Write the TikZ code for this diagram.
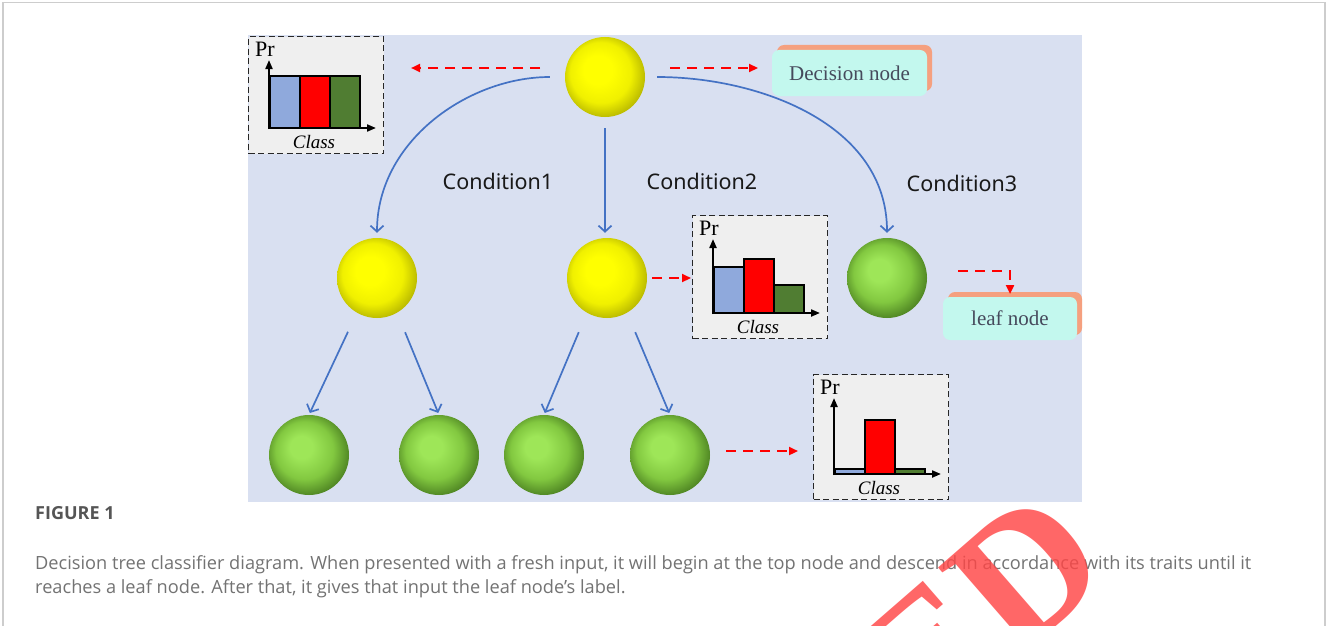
\documentclass[tikz,border=0pt]{standalone}
\usepackage{fontspec}
\setmainfont{Liberation Serif}
\newfontfamily\condfont{Noto Sans}
\newfontfamily\capfont{Open Sans}
\usetikzlibrary{arrows.meta,shadows}
\definecolor{bgblue}{RGB}{217,224,241}
\definecolor{frameg}{RGB}{205,205,205}
\definecolor{arrblue}{RGB}{68,114,196}
\definecolor{boxcyan}{RGB}{195,248,238}
\definecolor{boxorange}{RGB}{245,160,127}
\definecolor{boxtext}{RGB}{70,74,92}
\definecolor{histfill}{RGB}{239,239,239}
\definecolor{barblue}{RGB}{143,169,220}
\definecolor{barred}{RGB}{255,0,0}
\definecolor{bargreen}{RGB}{80,125,50}
\definecolor{captext}{RGB}{115,115,115}
\definecolor{caphead}{RGB}{85,85,85}
\definecolor{wmred}{RGB}{255,70,70}
\definecolor{yca}{RGB}{255,255,0}
\definecolor{ycb}{RGB}{240,240,0}
\definecolor{ycc}{RGB}{185,185,0}
\definecolor{ycd}{RGB}{115,115,0}
\definecolor{gca}{RGB}{158,230,88}
\definecolor{gcb}{RGB}{130,200,64}
\definecolor{gcc}{RGB}{84,140,38}
\definecolor{gcd}{RGB}{42,80,18}
\pgfdeclareradialshading{yball}{\pgfpoint{-6bp}{6bp}}{color(0bp)=(yca); color(9bp)=(yca); color(19bp)=(ycb); color(27bp)=(ycc); color(35bp)=(ycd)}
\pgfdeclareradialshading{gball}{\pgfpoint{-6bp}{6bp}}{color(0bp)=(gca); color(7bp)=(gca); color(18bp)=(gcb); color(26bp)=(gcc); color(35bp)=(gcd)}
\tikzset{
  ball/.style={circle, minimum size=80pt, inner sep=0pt, draw=none},
  yballn/.style={ball, shade, shading=yball},
  gballn/.style={ball, shade, shading=gball},
  barrow/.style={draw=arrblue, line width=1.7pt, -{Straight Barb[length=6pt,width=13pt,line width=1.7pt]}},
  rarrow/.style={draw=red, line width=2.2pt, dash pattern=on 10pt off 7pt, -{Triangle[length=9pt,width=8pt]}},
  histbox/.style={draw=black!85, fill=histfill, line width=1.3pt, dash pattern=on 6pt off 3.5pt, inner sep=0pt},
  bar/.style={draw=black, line width=1.5pt},
  axis/.style={draw=black, line width=2pt, -{Triangle[length=9pt,width=7pt]}},
  nodebox/.style={fill=boxcyan, rounded corners=7pt, text=boxtext, font=\fontsize{21}{24}\selectfont, inner sep=0pt,
     copy shadow={shadow xshift=5pt, shadow yshift=5pt, fill=boxorange, draw=none}},
  condlabel/.style={font=\condfont\fontsize{21.5}{24}\selectfont, text=black!90},
}
\newcommand\hchart[7]{%
  \node[histbox, minimum width=135pt, minimum height=#4pt, anchor=north west] (#1) at (#2,#3) {};
  \begin{scope}[shift={(#1.north west)}]
    \draw[bar, fill=barblue] (22,#4-25) rectangle ++(30,-#5);
    \draw[bar, fill=barred] (52,#4-25) rectangle ++(30,-#6);
    \draw[bar, fill=bargreen] (82,#4-25) rectangle ++(30,-#7);
    \draw[axis] (21,#4-24) -- (21,24);
    \draw[axis] (20,#4-25) -- (128,#4-25);
    \node[font=\fontsize{22}{24}\selectfont, inner sep=0pt] (#1pr) at (17,13) {Pr};
    \node[font=\itshape\fontsize{19}{22}\selectfont, inner sep=0pt] (#1cl) at (66,#4-11) {Class};
  \end{scope}}
\begin{document}
\begin{tikzpicture}[x=1pt,y=-1pt]
\useasboundingbox (0,0) rectangle (1327,626);
\clip (0,0) rectangle (1327,626);
\fill[white] (0,0) rectangle (1327,626);
\draw[frameg, line width=1.5pt] (3,660) -- (3,2.5) -- (1325,2.5) -- (1325,660);
\fill[bgblue] (248,35) rectangle (1082,502);

% charts
\hchart{h1}{248}{36}{117}{52}{52}{52}
\hchart{h2}{692}{215}{123}{46}{54}{28}
\hchart{h3}{813}{374}{125}{5}{54}{5}

% balls
\node[yballn] (r)  at (605,77) {};
\node[yballn] (l1) at (377,278) {};
\node[yballn] (l2) at (607,278) {};
\node[gballn] (l3) at (887,278) {};
\node[gballn] (g1) at (309,455) {};
\node[gballn] (g2) at (439,455) {};
\node[gballn] (g3) at (544,455) {};
\node[gballn] (g4) at (670,455) {};

% tree arrows
\draw[barrow, shorten <=15pt, shorten >=5pt] (r.west) to[out=180,in=90] (l1.north);
\draw[barrow, shorten <=11pt, shorten >=5pt] (r.south) -- (r.south |- l2.north);
\draw[barrow, shorten <=12pt, shorten >=5pt] (r.east) to[out=0,in=90] (l3.north);
\draw[barrow, shorten <=21pt, shorten >=2pt] (l1.240) -- (g1.north);
\draw[barrow, shorten <=21pt, shorten >=2pt] (l1.300) -- (g2.north);
\draw[barrow, shorten <=21pt, shorten >=2pt] (l2.240) -- (g3.north);
\draw[barrow, shorten <=21pt, shorten >=2pt] (l2.300) -- (g4.north);

% condition labels
\node[condlabel] (c1) at (498,181) {Condition1};
\node[condlabel] (c2) at (702,181) {Condition2};
\node[condlabel] (c3) at (962,183) {Condition3};

% legend boxes
\node[nodebox, minimum width=155pt, minimum height=46pt] (dn) at (849.5,73) {Decision node};
\node[nodebox, minimum width=134pt, minimum height=43pt] (ln) at (1010,318.5) {leaf node};

% red dashed arrows
\coordinate (a1s) at (540,68); \coordinate (a1e) at (411,68);
\coordinate (a2s) at (670,68); \coordinate (a2e) at (758,68);
\coordinate (a3s) at (652,278); \coordinate (a3e) at (691,278);
\coordinate (a4s) at (958,271); \coordinate (a4e) at (1010,294);
\coordinate (a5s) at (726,451); \coordinate (a5e) at (798,451);
\draw[rarrow] (a1s) -- (a1e);
\draw[rarrow] (a2s) -- (a2e);
\draw[rarrow] (a3s) -- (a3e);
\draw[rarrow] (a4s) -| (a4e);
\draw[rarrow] (a5s) -- (a5e);

% caption
\node[anchor=base west, inner sep=0pt, text=caphead, font=\capfont\bfseries\fontsize{18}{20}\selectfont] (fig) at (35,519) {FIGURE 1};
\node[anchor=base west, inner sep=0pt, text=captext, font=\capfont\fontsize{18.2}{20}\selectfont] (cap1) at (35,569) {Decision tree classifier diagram. When presented with a fresh input, it will begin at the top node and descend in accordance with its traits until it};
\node[anchor=base west, inner sep=0pt, text=captext, font=\capfont\fontsize{18.2}{20}\selectfont] (cap2) at (35,593) {reaches a leaf node. After that, it gives that input the leaf node’s label.};

% watermark
\node[text=wmred, opacity=0.82, rotate=41, inner sep=0pt, font=\bfseries\fontsize{185}{185}\selectfont] (wm) at (980,613) {ED};
\end{tikzpicture}
\end{document}
